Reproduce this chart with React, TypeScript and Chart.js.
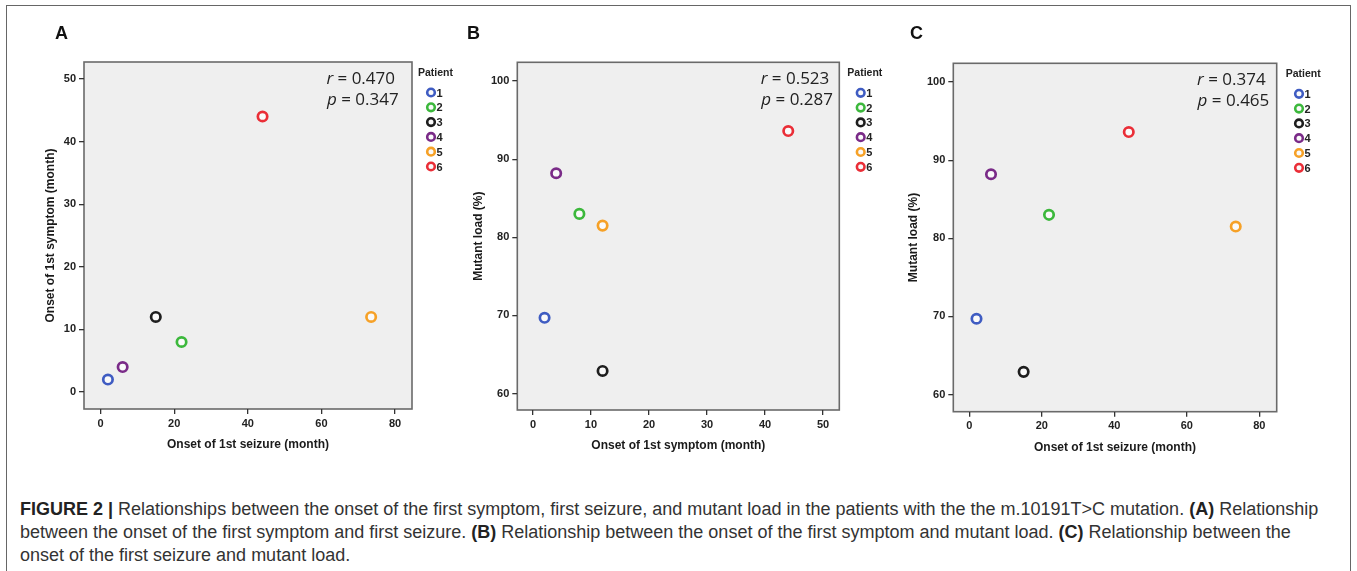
import React, { useEffect, useRef } from 'react';
import { Chart, registerables } from 'chart.js';

Chart.register(...registerables);

// ---------------- data ----------------
const patients = ['1', '2', '3', '4', '5', '6'];
const patientColors = ['#3f5cc2', '#3cb83c', '#1e1e1e', '#7a2b88', '#f6a127', '#ea2e37'];
const seizureOnset = [2, 22, 15, 6, 73.5, 44];
const symptomOnset = [2, 8, 12, 4, 12, 44];
const mutantLoad = [69.7, 83, 62.9, 88.2, 81.5, 93.6];

const seizureTicks = [0, 20, 40, 60, 80];
const symptomTicks = [0, 10, 20, 30, 40, 50];
const loadTicks = [60, 70, 80, 90, 100];

const panelLetters = ['A', 'B', 'C'];
const rValues = ['0.470', '0.523', '0.374'];
const pValues = ['0.347', '0.287', '0.465'];
const xTitles = ['Onset of 1st seizure (month)', 'Onset of 1st symptom (month)', 'Onset of 1st seizure (month)'];
const yTitles = ['Onset of 1st symptom (month)', 'Mutant load (%)', 'Mutant load (%)'];

// ---------------- layout ----------------
type Layout = {
  left: number; width: number; height: number;
  l: number; t: number; r: number; b: number; // chart area relative to canvas
  yTitlePad: number; xTitlePad: number;
  letterX: number;
  rRight: number; pRight: number;
  legTx: number; legCx: number;
  xMin: number; xMax: number; yMin: number; yMax: number;
};

const layouts: Layout[] = [
  { left: 0, width: 460, height: 470, l: 84, t: 62, r: 412, b: 409, yTitlePad: 43.5, xTitlePad: 17.8, letterX: 55,
    rRight: 17, pRight: 13.3, legTx: 6, legCx: 19, xMin: -4.5, xMax: 84.6, yMin: -2.7, yMax: 52.7 },
  { left: 460, width: 440, height: 470, l: 57.3, t: 62.3, r: 379.3, b: 410, yTitlePad: 11.2, xTitlePad: 16.8, letterX: 7,
    rRight: 10, pRight: 6.3, legTx: 8, legCx: 21.4, xMin: -2.7, xMax: 52.8, yMin: 57.9, yMax: 102.4 },
  { left: 900, width: 457, height: 470, l: 53.3, t: 63.3, r: 376.7, b: 411.7, yTitlePad: 6.9, xTitlePad: 15.1, letterX: 10,
    rRight: 11, pRight: 7.4, legTx: 9, legCx: 22.3, xMin: -4.4, xMax: 84.8, yMin: 57.8, yMax: 102.4 },
];

const panelX = [seizureOnset, symptomOnset, seizureOnset];
const panelY = [symptomOnset, mutantLoad, mutantLoad];
const panelXTicks = [seizureTicks, symptomTicks, seizureTicks];
const panelYTicks = [symptomTicks, loadTicks, loadTicks];

const FONT = '"Liberation Sans", Arial, sans-serif';

function makeDecor(i: number) {
  const L = layouts[i];
  return {
    id: 'decor' + i,
    beforeDraw(chart: any) {
      const { ctx, chartArea: a } = chart;
      ctx.save();
      ctx.fillStyle = '#efefef';
      ctx.fillRect(a.left, a.top, a.right - a.left, a.bottom - a.top);
      ctx.strokeStyle = '#6a6a6a';
      ctx.lineWidth = 1.6;
      ctx.strokeRect(a.left, a.top, a.right - a.left, a.bottom - a.top);
      ctx.restore();
    },
    afterDraw(chart: any) {
      const { ctx, chartArea: a } = chart;
      ctx.save();
      // panel letter
      ctx.fillStyle = '#111';
      ctx.font = `bold 18px ${FONT}`;
      ctx.textAlign = 'left';
      ctx.textBaseline = 'middle';
      ctx.fillText(panelLetters[i], L.letterX, 34);

      // r / p annotation
      const drawStat = (sym: string, val: string, right: number, y: number) => {
        ctx.font = `17px "Open Sans", sans-serif`;
        ctx.fillStyle = '#222';
        ctx.textAlign = 'right';
        const rest = ' = ' + val;
        ctx.fillText(rest, right, y);
        const w = ctx.measureText(rest).width;
        ctx.font = `italic 17px "Open Sans", sans-serif`;
        ctx.fillText(sym, right - w, y);
      };
      drawStat('r', rValues[i], a.right - L.rRight, a.top + 17);
      drawStat('p', pValues[i], a.right - L.pRight, a.top + 38);

      // legend
      ctx.textAlign = 'left';
      ctx.fillStyle = '#222';
      ctx.font = `bold 10.5px ${FONT}`;
      ctx.fillText('Patient', a.right + L.legTx, a.top + 11);
      chart.data.datasets.forEach((ds: any, k: number) => {
        const cx = a.right + L.legCx;
        const cy = a.top + 30.5 + k * 14.8;
        ctx.beginPath();
        ctx.arc(cx, cy, 3.8, 0, Math.PI * 2);
        ctx.fillStyle = '#fafafa';
        ctx.fill();
        ctx.lineWidth = 2.6;
        ctx.strokeStyle = ds.borderColor;
        ctx.stroke();
        ctx.fillStyle = '#222';
        ctx.font = `bold 11px ${FONT}`;
        ctx.fillText(ds.label, cx + 5.5, cy + 1);
      });
      ctx.restore();
    },
  };
}

function Panel({ i }: { i: number }) {
  const ref = useRef<HTMLCanvasElement | null>(null);
  useEffect(() => {
    const L = layouts[i];
    const canvas = ref.current!;
    const datasets = patients.map((p, k) => ({
      label: p,
      data: [{ x: panelX[i][k], y: panelY[i][k] }],
      borderColor: patientColors[k],
      backgroundColor: '#fafafa',
      pointRadius: 4.7,
      pointBorderWidth: 2.7,
      showLine: false,
    }));
    const tickFont = { family: FONT, size: 11, weight: 'bold' as const };
    const titleFont = { family: FONT, size: 12, weight: 'bold' as const };
    const chart = new Chart(canvas, {
      type: 'scatter',
      data: { datasets },
      options: {
        animation: false,
        responsive: false,
        events: [],
        layout: { padding: { left: 0, top: L.t, right: L.width - L.r, bottom: 0 } },
        plugins: { legend: { display: false }, tooltip: { enabled: false } },
        scales: {
          x: {
            type: 'linear',
            min: L.xMin,
            max: L.xMax,
            afterBuildTicks: (s: any) => { s.ticks = panelXTicks[i].map((v) => ({ value: v })); },
            afterFit: (s: any) => { s.height = L.height - L.b; },
            ticks: { font: tickFont, color: '#222', padding: 3, maxRotation: 0 },
            grid: { display: true, drawOnChartArea: false, drawTicks: true, tickLength: 5, color: '#333', lineWidth: 1.3 },
            border: { display: false },
            title: { display: true, text: xTitles[i], font: titleFont, color: '#1a1a1a', padding: { top: 0, bottom: L.xTitlePad } },
          },
          y: {
            type: 'linear',
            min: L.yMin,
            max: L.yMax,
            afterBuildTicks: (s: any) => { s.ticks = panelYTicks[i].map((v) => ({ value: v })); },
            afterFit: (s: any) => { s.width = L.l; },
            ticks: { font: tickFont, color: '#222', padding: 3 },
            grid: { display: true, drawOnChartArea: false, drawTicks: true, tickLength: 5, color: '#333', lineWidth: 1.3 },
            border: { display: false },
            title: { display: true, text: yTitles[i], font: titleFont, color: '#1a1a1a', padding: { top: L.yTitlePad, bottom: 0 } },
          },
        },
      },
      plugins: [makeDecor(i)],
    } as any);
    return () => chart.destroy();
  }, [i]);
  const L = layouts[i];
  return (
    <canvas
      ref={ref}
      width={L.width}
      height={L.height}
      style={{ position: 'absolute', left: L.left, top: 0, width: L.width, height: L.height }}
    />
  );
}

const captionStyle: React.CSSProperties = {
  position: 'absolute',
  left: 20,
  whiteSpace: 'nowrap',
  fontFamily: FONT,
  fontSize: 18,
  lineHeight: '23px',
  color: '#333',
};

export default function App() {
  return (
    <div style={{ position: 'fixed', left: 0, top: 0, width: 1357, height: 571, overflow: 'hidden', background: '#fff' }}>
      <div style={{ position: 'absolute', left: 6, top: 5, width: 1345, height: 620, border: '1.5px solid #666', boxSizing: 'border-box' }} />
      {[0, 1, 2].map((i) => <Panel key={i} i={i} />)}
      <div style={{ ...captionStyle, top: 497.5 }}>
        <b style={{ color: '#222' }}>FIGURE 2 |</b> Relationships between the onset of the first symptom, first seizure, and mutant load in the patients with the the m.10191T&gt;C mutation. <b style={{ color: '#222' }}>(A)</b> Relationship
      </div>
      <div style={{ ...captionStyle, top: 520.5 }}>
        between the onset of the first symptom and first seizure. <b style={{ color: '#222' }}>(B)</b> Relationship between the onset of the first symptom and mutant load. <b style={{ color: '#222' }}>(C)</b> Relationship between the
      </div>
      <div style={{ ...captionStyle, top: 543.5 }}>
        onset of the first seizure and mutant load.
      </div>
    </div>
  );
}
